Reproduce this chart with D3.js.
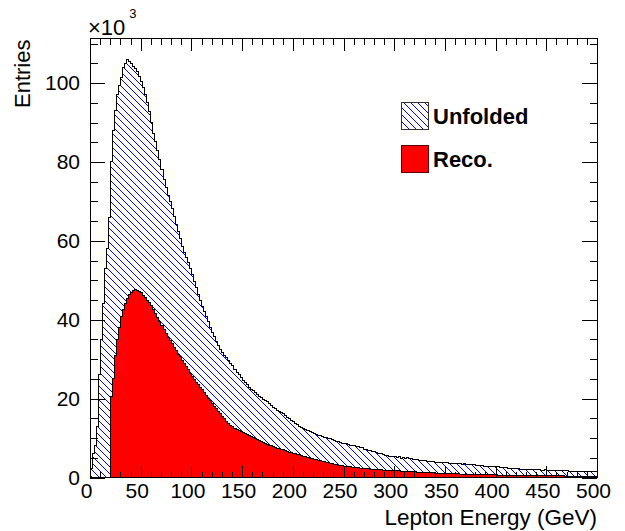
<!DOCTYPE html>
<html><head><meta charset="utf-8">
<script src="https://cdn.jsdelivr.net/npm/d3@7"></script>
<style>
body{margin:0;background:#fff}
text{font-family:"Liberation Sans",Arial,Helvetica,sans-serif;fill:#000}
</style></head>
<body><svg id="c" width="625" height="531"></svg>
<script>
// Data (entries in units of 10^3), 2 GeV bins from 0 to 500 GeV
const binEdgesRange = [0, 500];
const binWidth = 2;
const unfolded = [
2.2,6.0,8.0,13.0,26.0,35.0,44.0,53.0,58.0,66.0,
80.0,88.0,93.0,97.0,99.5,101.5,104.0,105.0,105.9,105.4,
104.9,104.3,103.6,103.0,101.7,100.4,98.8,97.0,95.2,92.8,
90.0,87.2,85.2,83.0,80.6,78.2,75.6,73.6,71.6,70.0,
68.1,66.2,64.2,62.4,60.6,58.6,57.1,55.8,54.4,53.0,
51.4,49.7,48.2,46.4,44.9,43.4,42.1,40.8,39.5,38.1,
36.8,35.7,34.5,33.4,32.4,31.6,30.9,30.3,29.7,29.0,
28.3,27.5,26.7,26.0,25.3,24.6,24.0,23.5,22.9,22.4,
22.0,21.5,21.0,20.6,20.3,19.9,19.5,19.2,18.7,18.3,
17.8,17.4,17.0,16.7,16.4,16.1,15.7,15.3,14.9,14.5,
14.1,13.8,13.4,13.0,12.7,12.4,12.1,11.9,11.6,11.4,
11.2,10.9,10.7,10.6,10.4,10.2,10.1,10.0,9.8,9.6,
9.4,9.2,9.1,8.9,8.7,8.6,8.5,8.3,8.2,8.1,
8.0,7.8,7.8,7.5,7.5,7.1,7.1,6.9,6.9,6.6,
6.5,6.3,6.1,6.0,5.8,5.6,5.5,5.3,5.4,5.2,
5.3,5.0,5.2,4.9,5.1,4.8,5.0,4.7,4.8,4.6,
4.6,4.5,4.4,4.3,4.3,4.2,4.1,4.1,4.0,4.0,
3.9,3.8,3.9,3.7,3.8,3.7,3.7,3.6,3.6,3.6,
3.6,3.5,3.5,3.4,3.5,3.3,3.3,3.3,3.2,3.2,
3.1,3.1,3.0,3.0,2.9,2.9,2.8,2.9,2.7,2.7,
2.7,2.7,2.6,2.6,2.5,2.5,2.4,2.4,2.3,2.3,
2.2,2.2,2.1,2.1,2.1,2.0,2.0,2.0,2.0,2.0,
1.95,1.95,1.9,1.9,2.0,1.85,1.85,1.8,1.8,1.8,
1.75,1.75,1.7,1.7,1.65,1.65,1.6,1.6,1.6,1.55,
1.55,1.5,1.5,1.5,1.5,1.45,1.45,1.45,1.4,1.4];
const reco = [
0,0,0,0,0,0,0,0,0,0,
20.5,25.0,31.0,35.0,38.0,40.7,42.5,44.2,45.4,46.3,
47.0,47.5,47.7,47.5,47.2,46.8,46.2,45.6,45.0,44.4,
43.5,42.5,41.5,40.5,39.6,38.6,37.5,36.5,35.6,34.8,
33.9,33.0,32.1,31.3,30.6,29.7,28.9,28.1,27.3,26.4,
25.6,24.9,24.2,23.5,22.9,22.2,21.5,20.8,20.1,19.5,
18.8,18.1,17.4,16.8,16.2,15.5,14.9,14.3,13.8,13.3,
12.9,12.5,12.2,11.9,11.6,11.3,11.05,10.8,10.55,10.3,
10.05,9.8,9.55,9.3,9.05,8.8,8.6,8.4,8.2,8.0,
7.8,7.6,7.45,7.3,7.15,7.0,6.8,6.6,6.45,6.3,
6.15,6.0,5.9,5.75,5.6,5.4,5.25,5.1,4.9,4.8,
4.65,4.5,4.35,4.2,4.1,3.95,3.8,3.7,3.55,3.45,
3.35,3.25,3.15,3.05,2.95,2.9,2.85,2.8,2.7,2.65,
2.6,2.5,2.45,2.4,2.35,2.3,2.25,2.2,2.15,2.1,
2.05,2.0,1.97,1.94,1.9,1.87,1.84,1.8,1.77,1.74,
1.71,1.68,1.65,1.62,1.59,1.56,1.53,1.5,1.47,1.44,
1.41,1.38,1.35,1.32,1.3,1.27,1.24,1.21,1.18,1.15,
1.12,1.09,1.06,1.03,1.0,0.98,0.97,0.95,0.94,0.92,
0.9,0.89,0.87,0.86,0.84,0.83,0.81,0.8,0.78,0.77,
0.75,0.74,0.73,0.72,0.71,0.7,0.69,0.68,0.66,0.65,
0.64,0.63,0.62,0.61,0.6,0.6,0.59,0.58,0.57,0.56,
0.55,0.54,0.54,0.53,0.52,0.51,0.5,0.5,0.49,0.48,
0.47,0.47,0.46,0.45,0.45,0.44,0.43,0.43,0.42,0.41,
0.41,0.4,0.39,0.39,0.38,0.37,0.37,0.36,0.35,0.35,
0.34,0.34,0.33,0.33,0.32,0.32,0.31,0.31,0.3,0.3];
const xMajorTicks = [0,50,100,150,200,250,300,350,400,450,500];
const yMajorTicks = [0,20,40,60,80,100];
const seriesNames = ["Unfolded","Reco."];
const xTitle = "Lepton Energy (GeV)";
const yTitle = "Entries";
const yMaxValue = 111.3;

const L = 90, R = 597, T = 38.5, B = 477.5;
const svg = d3.select("#c");
const x = d3.scaleLinear().domain(binEdgesRange).range([L, R]);
const y = d3.scaleLinear().domain([0, yMaxValue]).range([B, T]);

const defs = svg.append("defs");
const pat = defs.append("pattern").attr("id","hatch").attr("patternUnits","userSpaceOnUse")
  .attr("width",7).attr("height",7);
pat.append("rect").attr("width",7).attr("height",7).attr("fill","#fff");
pat.append("path").attr("d","M0,0L7,7M-1,6L1,8M6,-1L8,1").attr("stroke","#0000ff").attr("stroke-width",1);
defs.append("clipPath").attr("id","frame").append("rect").attr("x",L).attr("y",T).attr("width",R-L).attr("height",B-T);

function stepPath(vals){
  let d = "M" + x(0) + "," + y(0);
  vals.forEach((v,i)=>{
    const x0 = x(i*binWidth), x1 = x((i+1)*binWidth);
    d += "L" + x0 + "," + y(v) + "L" + x1 + "," + y(v);
  });
  d += "L" + x(vals.length*binWidth) + "," + y(0) + "Z";
  return d;
}
const plot = svg.append("g").attr("clip-path","url(#frame)");
plot.append("path").attr("d", stepPath(unfolded)).attr("fill","url(#hatch)")
  .attr("stroke","#000").attr("stroke-width",1).attr("shape-rendering","crispEdges");

// axes (ticks inside, mirrored on all sides)
const xMinor = d3.range(0, 501, 10).filter(v => v % 50 !== 0);
const yMinor = d3.range(0, yMaxValue, 5).filter(v => v % 20 !== 0);
function styleAxis(g){ g.select(".domain").remove(); g.selectAll("line").attr("stroke","#000").attr("shape-rendering","crispEdges"); g.selectAll("text").style("font-size","21px").style("font-family",'"Liberation Sans",Arial,sans-serif'); }
svg.append("g").attr("transform",`translate(0,${B})`).call(d3.axisBottom(x).tickValues(xMajorTicks).tickSize(-12).tickPadding(6).tickFormat(d3.format("d"))).call(styleAxis)
  .selectAll("text").attr("dx",-4);
svg.append("g").attr("transform",`translate(0,${B})`).call(d3.axisBottom(x).tickValues(xMinor).tickSize(-6).tickFormat("")).call(styleAxis);
svg.append("g").attr("transform",`translate(0,${T})`).call(d3.axisTop(x).tickValues(xMajorTicks).tickSize(-12).tickFormat("")).call(styleAxis);
svg.append("g").attr("transform",`translate(0,${T})`).call(d3.axisTop(x).tickValues(xMinor).tickSize(-6).tickFormat("")).call(styleAxis);
svg.append("g").attr("transform",`translate(${L},0)`).call(d3.axisLeft(y).tickValues(yMajorTicks).tickSize(-15).tickPadding(10).tickFormat(d3.format("d"))).call(styleAxis);
svg.append("g").attr("transform",`translate(${L},0)`).call(d3.axisLeft(y).tickValues(yMinor).tickSize(-7.5).tickFormat("")).call(styleAxis);
svg.append("g").attr("transform",`translate(${R},0)`).call(d3.axisRight(y).tickValues(yMajorTicks).tickSize(-15).tickFormat("")).call(styleAxis);
svg.append("g").attr("transform",`translate(${R},0)`).call(d3.axisRight(y).tickValues(yMinor).tickSize(-7.5).tickFormat("")).call(styleAxis);

plot.append("path").attr("d", stepPath(reco)).attr("fill","#ff0000")
  .attr("stroke","#000").attr("stroke-width",1).attr("shape-rendering","crispEdges");

svg.append("rect").attr("x",L).attr("y",T).attr("width",R-L).attr("height",B-T)
  .attr("fill","none").attr("stroke","#000").attr("stroke-width",1).attr("shape-rendering","crispEdges");

// titles
svg.append("text").attr("x",R).attr("y",525).attr("text-anchor","end").style("font-size","22.5px").text(xTitle);
svg.append("text").attr("transform",`translate(30,${T+1}) rotate(-90)`).attr("text-anchor","end").style("font-size","22px").text(yTitle);
const mult = svg.append("text").attr("x",88).attr("y",35).style("font-size","22px");
mult.append("tspan").text("\u00d710");
mult.append("tspan").attr("dy",-17).attr("dx",4).style("font-size","13px").text("3");

// legend
const lg = svg.append("g");
const items = [{name:seriesNames[0], fill:"url(#hatch)", stroke:"#333", y:102},{name:seriesNames[1], fill:"#ff0000", stroke:"#600000", y:145.5}];
items.forEach(it=>{
  lg.append("rect").attr("x",401).attr("y",it.y).attr("width",27).attr("height",27)
    .attr("fill",it.fill).attr("stroke",it.stroke).attr("stroke-width",1).attr("shape-rendering","crispEdges");
  lg.append("text").attr("x",433).attr("y",it.y+21.5).style("font-size","22px").style("font-weight","bold").text(it.name);
});
</script></body></html>
